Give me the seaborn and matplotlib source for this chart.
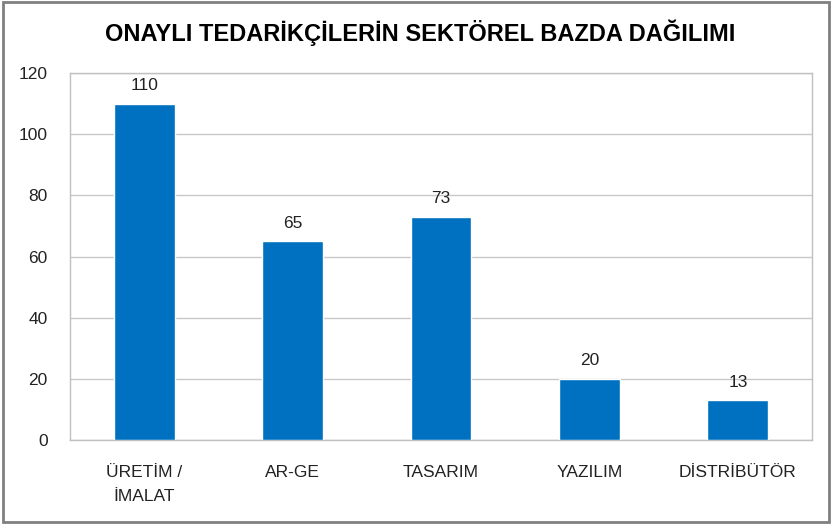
import numpy as np
import pandas as pd
import seaborn as sns
import matplotlib.pyplot as plt
from matplotlib.patches import Rectangle

categories = ["ÜRETİM /\nİMALAT", "AR-GE", "TASARIM", "YAZILIM", "DİSTRİBÜTÖR"]
values = [110, 65, 73, 20, 13]
yticks = [0, 20, 40, 60, 80, 100, 120]

sns.set_theme(style="white")
plt.rcParams['font.family'] = ['Liberation Sans', 'DejaVu Sans']

df = pd.DataFrame({'sector': categories, 'count': values})

fig = plt.figure(figsize=(8.32, 5.27), dpi=100)
ax = fig.add_axes([0.0841, 0.165, 0.892, 0.6965])

sns.barplot(data=df, x='sector', y='count', color='#0070C0', width=0.41,
            saturation=1, ax=ax, zorder=3)

for i, v in enumerate(values):
    ax.text(i, v + 3.5, str(v), ha='center', va='bottom', fontsize=12.5, color='#222222')

ax.set_ylim(0, 120)
ax.set_yticks(yticks)
ax.set_xlim(-0.5, len(categories) - 0.5)
ax.yaxis.grid(True, color='#c8c8c8', linewidth=1, zorder=0)
ax.set_xlabel('')
ax.set_ylabel('')
ax.tick_params(axis='both', length=0, labelsize=12.5, colors='#222222')
ax.tick_params(axis='y', pad=16)
ax.tick_params(axis='x', pad=18)
for lbl in ax.get_xticklabels():
    lbl.set_linespacing(1.75)
for s in ax.spines.values():
    s.set_color('#c0c0c0')
    s.set_linewidth(1)

fig.text(0.505, 0.937, 'ONAYLI TEDARİKÇİLERİN SEKTÖREL BAZDA DAĞILIMI',
         ha='center', va='center', fontsize=17, fontweight='bold', color='black')

fig.patches.append(Rectangle((0.004, 0.01), 0.992, 0.986, transform=fig.transFigure,
                             fill=False, edgecolor='#808080', linewidth=2))

plt.savefig('out.png', dpi=100)
